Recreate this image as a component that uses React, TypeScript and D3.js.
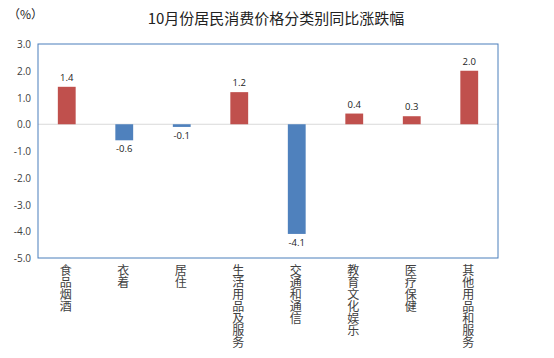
import React from "react";
import * as d3 from "d3";

const categories = ["食品烟酒", "衣着", "居住", "生活用品及服务", "交通和通信", "教育文化娱乐", "医疗保健", "其他用品和服务"];
const values = [1.4, -0.6, -0.1, 1.2, -4.1, 0.4, 0.3, 2.0];
const yTicks = [3, 2, 1, 0, -1, -2, -3, -4, -5];

const W = 554, H = 358;
const left = 38, right = 498, top = 44, bottom = 258;

export default function App() {
  const x = d3.scaleBand<string>().domain(categories).range([left, right]).paddingInner(0.69).paddingOuter(0.345);
  const y = d3.scaleLinear().domain([-5, 3]).range([bottom, top]);
  const numFont = "'Open Sans', 'Noto Sans', sans-serif";
  const cjk = "'Noto Sans CJK SC', sans-serif";
  return (
    <svg width={W} height={H} style={{ position: "absolute", left: 0, top: 0, background: "#fff" }}>
      <text x={8} y={19} fontFamily={cjk} fontSize={12} fill="#222">（%）</text>
      <text x={276} y={24} textAnchor="middle" fontFamily={cjk} fontSize={15} fill="#222">10月份居民消费价格分类别同比涨跌幅</text>
      {yTicks.map((t) => (
        <text key={t} x={31} y={y(t) + 4} textAnchor="end" fontFamily={numFont} fontSize={10} fill="#404040">{t.toFixed(1)}</text>
      ))}
      <line x1={left} x2={right} y1={y(0)} y2={y(0)} stroke="#d9d9d9" strokeWidth={1} />
      {categories.map((c, i) => {
        const v = values[i];
        const bx = x(c)!;
        const bw = x.bandwidth();
        const y0 = y(Math.max(0, v));
        const y1 = y(Math.min(0, v));
        const cx = bx + bw / 2;
        return (
          <g key={c}>
            <rect x={bx} y={y0} width={bw} height={y1 - y0} fill={v >= 0 ? "#C0504D" : "#4F81BD"} />
            <text x={cx} y={v >= 0 ? y0 - 6 : y1 + 12} textAnchor="middle" fontFamily={numFont} fontSize={9.5} fill="#222">{v.toFixed(1)}</text>
            {c.split("").map((ch, j) => (
              <text key={j} x={cx - 1} y={275 + j * 12} textAnchor="middle" fontFamily={cjk} fontSize={12} fill="#404040">{ch}</text>
            ))}
          </g>
        );
      })}
      <rect x={left} y={top} width={right - left} height={bottom - top} fill="none" stroke="#4A7EBB" strokeWidth={1} />
    </svg>
  );
}
